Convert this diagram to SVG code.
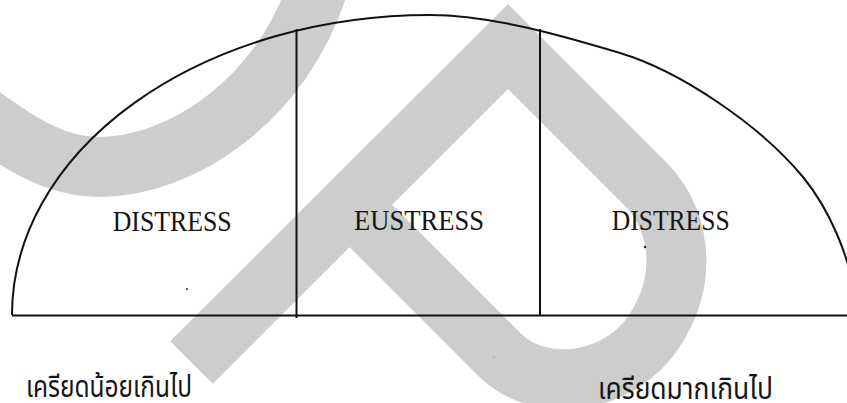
<svg xmlns="http://www.w3.org/2000/svg" width="847" height="403" viewBox="0 0 847 403">
  <style>
    .wm { fill: none; stroke: #cdcdcd; stroke-width: 60; stroke-linejoin: miter; stroke-miterlimit: 10; stroke-linecap: butt; }
    .ln { fill: none; stroke: #111; stroke-width: 2; }
    .lbl { font-family: "Liberation Serif", "DejaVu Serif", serif; font-size: 30px; fill: #151515; }
    .th { font-family: "Noto Sans Thai", "Noto Sans Thai UI", "Tahoma", "DejaVu Sans", "Noto Sans", sans-serif; font-size: 30px; fill: #151515; }
  </style>
  <rect width="847" height="403" fill="#ffffff"/>
  <g id="watermark">
    <path class="wm" d="M -40,100 C 20,145 55,167 100,167 C 180,167 285,100 320,-20"/>
    <path class="wm" d="M 191.5,362.5 L 508,46.5 L 640,178.5 C 680,215 690,275 655,330 C 620,385 540,395 500,355 L 360,215"/>
  </g>
  <g id="connectors">
    <path id="arc" class="ln" d="M 12,315 A 418 300 0 0 1 430,15 C 490,15 560,35 620,53 C 680,71 760,125 803,177 C 826,205 852,255 858,315"/>
    <line id="baseline" class="ln" x1="12" y1="315.5" x2="847" y2="315.5" stroke-width="2.2"/>
    <line id="divider-1" class="ln" x1="296.5" y1="29" x2="296.5" y2="318" stroke-width="1.8"/>
    <line id="divider-2" class="ln" x1="540" y1="29" x2="540" y2="316" stroke-width="1.8"/>
  </g>
  <g id="distress-low">
    <text class="lbl" x="112.7" y="231" textLength="119" lengthAdjust="spacingAndGlyphs">DISTRESS</text>
  </g>
  <g id="eustress">
    <text class="lbl" x="354" y="230" textLength="130" lengthAdjust="spacingAndGlyphs">EUSTRESS</text>
  </g>
  <g id="distress-high">
    <text class="lbl" x="611.7" y="230" textLength="118" lengthAdjust="spacingAndGlyphs">DISTRESS</text>
  </g>
  <g id="label-too-little">
    <text class="th" x="26" y="397" textLength="166" lengthAdjust="spacingAndGlyphs">เครียดน้อยเกินไป</text>
  </g>
  <g id="label-too-much">
    <text class="th" x="598" y="398.5" textLength="175" lengthAdjust="spacingAndGlyphs">เครียดมากเกินไป</text>
  </g>
  <g id="specks" fill="#222">
    <circle cx="187" cy="289" r="1"/>
    <circle cx="645" cy="247" r="1.2"/>
    <circle cx="494" cy="357" r="0.8" fill="#999"/>
  </g>
</svg>
